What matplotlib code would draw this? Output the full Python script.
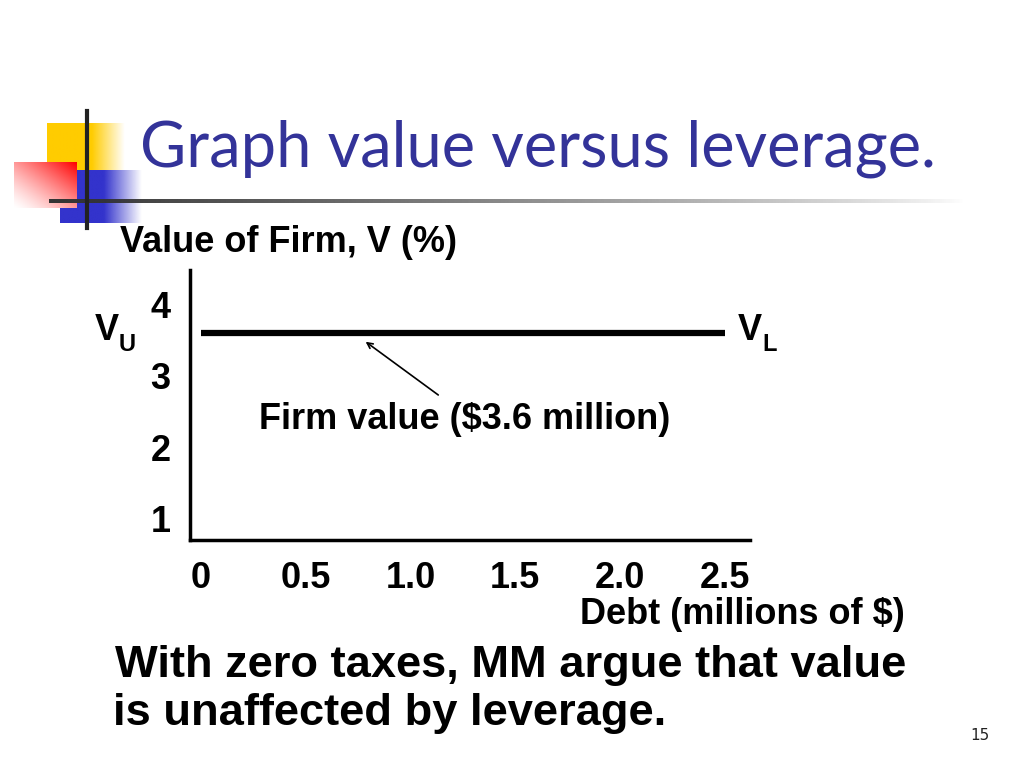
import numpy as np
import matplotlib.pyplot as plt
from matplotlib.colors import to_rgb

# data
debt = [0.0, 2.5]            # millions of $
firm_value = [3.6, 3.6]      # value of firm, flat with leverage
x_ticks = [0, 0.5, 1.0, 1.5, 2.0, 2.5]
x_labels = ['0', '0.5', '1.0', '1.5', '2.0', '2.5']
y_ticks = [1, 2, 3, 4]
y_labels = ['1', '2', '3', '4']

W, H = 1024, 768
fig = plt.figure(figsize=(W / 100, H / 100), dpi=100)

# background layer for slide decoration, in pixel coords
bg = fig.add_axes([0, 0, 1, 1])
bg.set_xlim(0, W)
bg.set_ylim(H, 0)
bg.axis('off')


def fade_box(x0, x1, y0, y1, color, solid_to):
    # colour box that fades to transparent toward the right
    n = 200
    xs = np.linspace(x0, x1, n)
    a = np.clip((x1 - xs) / (x1 - solid_to), 0, 1)
    img = np.zeros((1, n, 4))
    img[0, :, :3] = to_rgb(color)
    img[0, :, 3] = a
    bg.imshow(img, extent=[x0, x1, y1, y0], aspect='auto', interpolation='bilinear', zorder=1)


fade_box(47, 125, 123, 170, '#FFCC00', 92)
fade_box(60, 142, 170, 223, '#3333CC', 104)

# red box: red at top-right, white at bottom-left
n = 100
gx, gy = np.meshgrid(np.linspace(0, 1, n), np.linspace(0, 1, n))
t = np.clip((gx + (1 - gy)) / 2, 0, 1) ** 1.3
red = np.ones((n, n, 4))
red[..., 0] = 1.0
red[..., 1] = 1 - t
red[..., 2] = 1 - t
red[..., 3] = 1.0
bg.imshow(red, extent=[14, 77, 208, 162], aspect='auto', interpolation='bilinear', zorder=2)

# rule under title, dark to light
n = 400
rule = np.zeros((1, n, 4))
rule[0, :, :3] = 0.2
rule[0, :, 3] = np.linspace(1, 0, n) ** 0.8
bg.imshow(rule, extent=[49, 965, 203, 199], aspect='auto', interpolation='bilinear', zorder=3)
bg.plot([87, 87], [111, 228], color='#222222', lw=3, zorder=4)

fig.text(140 / W, 1 - 149 / H, 'Graph value versus leverage.', color='#333399',
         fontsize=45.5, family='Lato', va='center', ha='left')

bold = dict(family='Liberation Sans', weight='bold', color='black')

# chart
ax = fig.add_axes([190 / W, 1 - 540 / H, 560 / W, 270 / H])
ax.plot(debt, firm_value, color='black', lw=4.5, solid_capstyle='butt')
ax.set_xlim(-0.0525, 2.62)
ax.set_ylim(0.706, 4.48)
for s in ['top', 'right']:
    ax.spines[s].set_visible(False)
for s in ['left', 'bottom']:
    ax.spines[s].set_linewidth(2.5)
ax.set_xticks(x_ticks, x_labels, **bold, fontsize=26)
ax.set_yticks(y_ticks, y_labels, **bold, fontsize=26)
ax.tick_params(axis='x', length=0, pad=15)
ax.tick_params(axis='y', length=0, pad=14)

ax.annotate('', xy=(0.775, 3.5), xytext=(1.143, 2.71),
            arrowprops=dict(arrowstyle='->', color='black', lw=1.2))
ax.text(1.257, 2.385, 'Firm value ($3.6 million)', ha='center', va='center', fontsize=26, **bold)

fig.text(120 / W, 1 - 243 / H, 'Value of Firm, V (%)', ha='left', va='center', fontsize=26, **bold)
fig.text(905 / W, 1 - 614 / H, 'Debt (millions of $)', ha='right', va='center', fontsize=26, **bold)

fig.text(95 / W, 1 - 331 / H, 'V', ha='left', va='center', fontsize=26, **bold)
fig.text(119 / W, 1 - 344 / H, 'U', ha='left', va='center', fontsize=17, **bold)
fig.text(738 / W, 1 - 331 / H, 'V', ha='left', va='center', fontsize=26, **bold)
fig.text(762 / W, 1 - 344 / H, 'L', ha='left', va='center', fontsize=17, **bold)

fig.text(115 / W, 1 - 666 / H, 'With zero taxes, MM argue that value', ha='left', va='center',
         fontsize=32.6, **bold)
fig.text(113 / W, 1 - 714 / H, 'is unaffected by leverage.', ha='left', va='center',
         fontsize=32.6, **bold)

fig.text(980 / W, 1 - 735 / H, '15', ha='center', va='center', fontsize=11,
         family='DejaVu Sans', color='#222222')

fig.savefig('out.png', dpi=100)
